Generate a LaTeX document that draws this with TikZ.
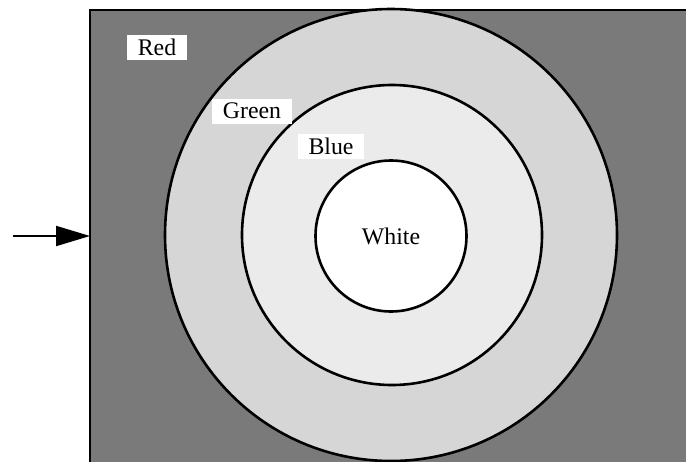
\documentclass[tikz,border=0pt]{standalone}
\usepackage{fontspec}
\setmainfont{Liberation Serif}
\usetikzlibrary{arrows.meta}
\definecolor{redfill}{gray}{0.48}
\definecolor{greenfill}{gray}{0.84}
\definecolor{bluefill}{gray}{0.92}
\tikzset{
	ring/.style={circle,draw,line width=1.3pt,inner sep=0pt},
	tag/.style={fill=white,inner xsep=5.5pt,inner ysep=0pt,minimum height=12.5pt},
}
\begin{document}
\begin{tikzpicture}[x=0.5pt,y=-0.5pt,font=\fontsize{11.9}{14}\selectfont]
	\clip (0,0) rectangle (686,461);

	\fill[redfill] (90,10) rectangle (700,480);
	\draw[line width=1pt] (700,10) -- (90,10) -- (90,480);

	\node[ring,fill=greenfill,minimum size=226pt] (outer) at (391,235) {};
	\node[ring,fill=bluefill,minimum size=150pt] (middle) at (392,235) {};
	\node[ring,fill=white,minimum size=75.5pt] (inner) at (391,236) {White};

	\node[tag] (red) at (157,47) {Red};
	\node[tag] (green) at (252,111) {Green};
	\node[tag] (blue) at (331,146) {Blue};

	\coordinate (entry) at (90,236);
	\coordinate (start) at (13,236);
	\draw[line width=1pt,-{Triangle[length=17pt,width=10pt]}] (start) -- (entry);
\end{tikzpicture}
\end{document}
